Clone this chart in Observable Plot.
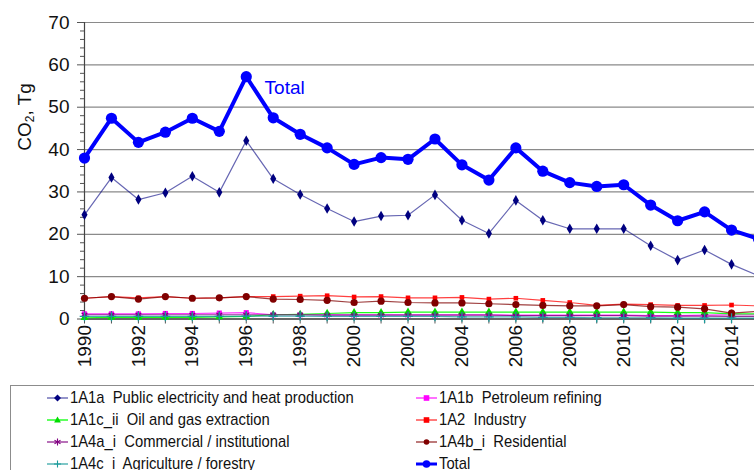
<!DOCTYPE html>
<html><head><meta charset="utf-8">
<script src="https://cdn.jsdelivr.net/npm/d3@7"></script>
<script src="https://cdn.jsdelivr.net/npm/@observablehq/plot@0.6"></script>
<style>
html,body{margin:0;padding:0;background:#fff;overflow:hidden;width:754px;height:470px;}
#wrap{position:relative;width:754px;height:470px;overflow:hidden;background:#fff;}
#chart{position:absolute;left:0;top:0;width:772px;}
#ylab{position:absolute;left:25px;top:117px;transform:translate(-50%,-50%) rotate(-90deg);font-family:"Liberation Sans",Arial,sans-serif;font-size:19px;color:#111;white-space:nowrap;}
#ylab sub{font-size:12px;vertical-align:-3px;}
#legend{position:absolute;left:10px;top:385px;width:820px;height:120px;border:1px solid #8c8c8c;}
.item{position:absolute;height:20px;display:flex;align-items:center;white-space:pre;font-family:"Liberation Sans Narrow","Arial Narrow","Liberation Sans",Arial,sans-serif;font-size:17px;color:#111;}
.item svg{display:block;margin-right:1px;flex:none;}
.item span{display:inline-block;transform:scaleX(0.87);transform-origin:0 50%;}
</style></head>
<body>
<div id="wrap">
  <div id="chart"></div>
  <div id="ylab">CO<sub>2</sub>, Tg</div>
  <div id="legend"></div>
</div>
<script>
// ---- data ----
const years = [1990,1991,1992,1993,1994,1995,1996,1997,1998,1999,2000,2001,2002,2003,2004,2005,2006,2007,2008,2009,2010,2011,2012,2013,2014,2015];
const seriesNames = [
  "1A1a  Public electricity and heat production",
  "1A1b  Petroleum refining",
  "1A1c_ii  Oil and gas extraction",
  "1A2  Industry",
  "1A4a_i  Commercial / institutional",
  "1A4b_i  Residential",
  "1A4c_i  Agriculture / forestry",
  "Total"
];
const publicElectricity = [24.6,33.4,28.2,29.8,33.7,29.9,42.1,33.1,29.4,26.1,23.0,24.3,24.5,29.3,23.3,20.2,28.0,23.3,21.3,21.3,21.3,17.3,13.9,16.3,12.9,10.2];
const petroleumRefining = [1.2,1.2,1.2,1.3,1.3,1.4,1.5,1.0,1.0,1.0,1.0,1.0,1.0,1.0,1.0,1.0,0.9,0.9,0.9,0.9,0.9,0.8,0.8,0.9,1.0,1.0];
const oilGasExtraction = [0.3,0.4,0.4,0.4,0.4,0.5,0.6,1.0,1.1,1.3,1.5,1.5,1.6,1.6,1.6,1.6,1.6,1.6,1.6,1.6,1.6,1.6,1.5,1.5,1.2,1.2];
const industry = [4.9,5.3,5.0,5.3,4.9,5.0,5.3,5.3,5.4,5.5,5.2,5.3,5.0,5.0,5.1,4.7,4.9,4.4,3.9,3.2,3.5,3.4,3.2,3.2,3.3,3.1];
const commercial = [1.0,1.0,1.0,1.0,1.0,1.0,1.0,1.0,1.0,0.9,0.9,0.9,0.9,0.9,0.9,0.9,0.8,0.8,0.8,0.8,0.8,0.7,0.7,0.7,0.6,0.6];
const residential = [4.9,5.3,4.7,5.3,4.9,5.0,5.3,4.7,4.6,4.4,3.9,4.2,3.9,3.8,3.8,3.6,3.4,3.2,3.1,3.1,3.4,2.9,2.8,2.4,1.4,1.8];
const agriculture = [0.6,0.6,0.6,0.6,0.6,0.6,0.7,0.7,0.7,0.6,0.6,0.6,0.6,0.6,0.5,0.5,0.5,0.4,0.4,0.3,0.3,0.3,0.2,0.2,0.2,0.2];
const total = [38.0,47.4,41.7,44.1,47.4,44.3,57.2,47.5,43.6,40.4,36.5,38.1,37.7,42.5,36.4,32.8,40.4,34.9,32.2,31.3,31.7,26.9,23.2,25.3,21.0,18.9];
const yTicks = [0,10,20,30,40,50,60,70];
const xTickLabels = [1990,1992,1994,1996,1998,2000,2002,2004,2006,2008,2010,2012,2014];
const annotationText = "Total";

// ---- styles ----
const valuesBySeries = [publicElectricity, petroleumRefining, oilGasExtraction, industry, commercial, residential, agriculture, total];
const styles = [
  {line:"#000080", lineOpacity:0.6, lw:1.2, symbol:"diamond", r:3.2, fill:"#000080", stroke:"none"},
  {line:"#FF00FF", lineOpacity:0.8, lw:1.2, symbol:"square", r:2.9, fill:"#FF00FF", stroke:"none"},
  {line:"#00FF00", lineOpacity:0.9, lw:1.2, symbol:"triangle", r:3.0, fill:"#00DD00", stroke:"none"},
  {line:"#FF0000", lineOpacity:0.75, lw:1.2, symbol:"square", r:2.6, fill:"#FF0000", stroke:"none"},
  {line:"#800080", lineOpacity:0.8, lw:1.2, symbol:"asterisk", r:3.2, fill:"none", stroke:"#800080"},
  {line:"#800000", lineOpacity:0.75, lw:1.2, symbol:"circle", r:3.6, fill:"#800000", stroke:"none"},
  {line:"#1a9a9a", lineOpacity:0.8, lw:1.2, symbol:"plus", r:3.2, fill:"none", stroke:"#1a9a9a"},
  {line:"#0000FF", lineOpacity:1, lw:4, symbol:"circle", r:5.6, fill:"#0000FF", stroke:"none"}
];

const rows = seriesNames.map((name, i) => years.map((year, j) => ({series:name, year, value:valuesBySeries[i][j]})));

const marks = [
  Plot.gridY(yTicks.filter(d => d > 0), {stroke:"#8a8a8a", strokeOpacity:1, strokeWidth:1.2}),
  Plot.axisY(d3.range(0, 71, 2).filter(d => d % 10 !== 0), {tickSize:4, tickFormat:() => "", stroke:"#555", label:null}),
  Plot.axisY(yTicks, {tickSize:7, tickPadding:8, fontSize:19, stroke:"#555", label:null, fill:"#111"}),
  Plot.axisX(years, {tickSize:5, tickFormat:() => "", stroke:"#555", label:null}),
  Plot.axisX(xTickLabels, {tickSize:0, tickPadding:6, tickRotate:-90, fontSize:19, tickFormat:d => String(d), label:null, fill:"#111"}),
  Plot.ruleX([1990], {stroke:"#444", strokeWidth:1.2}),
  Plot.ruleY([0], {stroke:"#333", strokeWidth:1.5})
];
rows.forEach((data, i) => {
  const s = styles[i];
  marks.push(Plot.line(data, {x:"year", y:"value", stroke:s.line, strokeOpacity:s.lineOpacity, strokeWidth:s.lw}));
  marks.push(Plot.dot(data, {x:"year", y:"value", symbol:s.symbol, r:s.r, fill:s.fill, stroke:s.stroke, strokeWidth:1.3}));
});
marks.push(Plot.text([{year:1996.68, value:54.6, label:annotationText}], {x:"year", y:"value", text:"label", textAnchor:"start", fill:"#0000FF", fontSize:19}));

const chart = Plot.plot({
  width: 772,
  height: 380,
  marginLeft: 84,
  marginRight: 14,
  marginTop: 22,
  marginBottom: 61.5,
  style: {fontFamily:'"Liberation Sans", Arial, sans-serif', background:"#fff", overflow:"visible", maxWidth:"none"},
  x: {domain:[1990, 2015], axis:null},
  y: {domain:[0, 70], axis:null},
  marks
});
document.getElementById("chart").appendChild(chart);

// ---- legend (HTML, below the SVG) ----
const legend = document.getElementById("legend");
const legendPos = [[35,2],[404,2],[35,23.5],[404,23.5],[35,46],[404,46],[35,68],[404,68]];
const symbolPath = {
  diamond: "M0,-3.5L3.5,0L0,3.5L-3.5,0Z",
  square: "M-2.8,-2.8H2.8V2.8H-2.8Z",
  triangle: "M0,-3.6L3.4,2.6H-3.4Z",
  circle: null, asterisk: "M0,-3.5V3.5M-3,-1.8L3,1.8M-3,1.8L3,-1.8", plus: "M0,-3.5V3.5M-3.5,0H3.5"
};
seriesNames.forEach((name, i) => {
  const s = styles[i];
  const div = document.createElement("div");
  div.className = "item";
  div.style.left = legendPos[i][0] + "px";
  div.style.top = legendPos[i][1] + "px";
  let mk;
  if (s.symbol === "circle") mk = `<circle cx="0" cy="0" r="${i === 7 ? 3.8 : 2.8}" fill="${s.fill}"/>`;
  else mk = `<path d="${symbolPath[s.symbol]}" fill="${s.fill}" stroke="${s.stroke}" stroke-width="1.1"/>`;
  div.innerHTML = `<svg width="23" height="20"><line x1="1" x2="22" y1="10" y2="10" stroke="${s.line}" stroke-opacity="${s.lineOpacity}" stroke-width="${i === 7 ? 3 : 1.4}"/><g transform="translate(11.5,10)">${mk}</g></svg><span>${name}</span>`;
  legend.appendChild(div);
});
</script>
</body></html>
